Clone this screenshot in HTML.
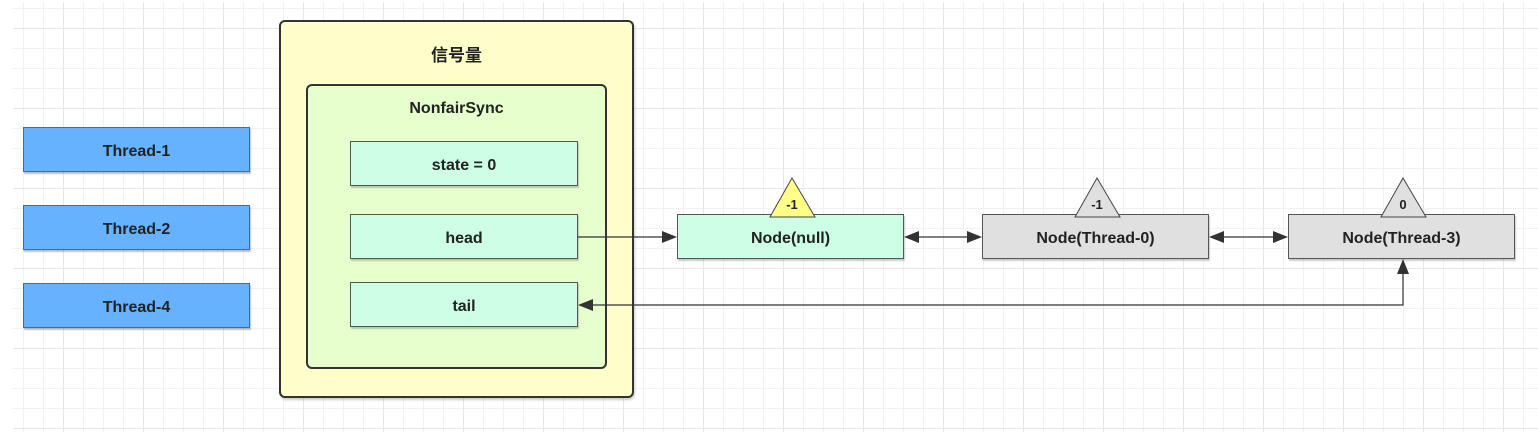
<!DOCTYPE html>
<html><head><meta charset="utf-8"><style>
html,body{margin:0;padding:0;background:#fff;}
body{width:1538px;height:432px;position:relative;overflow:hidden;font-family:"Liberation Sans","Noto Sans CJK SC",sans-serif;}
.grid{position:absolute;left:13px;top:2px;width:1525px;height:430px;
background-image:
linear-gradient(to right,#e6e6e6 1px,transparent 1px),
linear-gradient(to bottom,#e6e6e6 1px,transparent 1px),
linear-gradient(to right,#f1f1f1 1px,transparent 1px),
linear-gradient(to bottom,#f1f1f1 1px,transparent 1px);
background-size:80px 80px,80px 80px,20px 20px,20px 20px;
background-position:50px 26px,50px 26px,10px 6px,10px 6px;}
.b{position:absolute;box-sizing:border-box;display:flex;align-items:center;justify-content:center;font-weight:bold;font-size:16px;color:#222;padding-top:4px;}
.t{background:#66b2ff;border:1px solid #3d6f9e;box-shadow:1px 2px 1px rgba(0,0,0,.25);}
.f{background:#ccffe6;border:1px solid #555;box-shadow:1px 2px 1px rgba(0,0,0,.2);}
.g{background:#e0e0e0;border:1px solid #555;box-shadow:1px 2px 1px rgba(0,0,0,.2);}
</style></head><body>
<div class="grid"></div>
<div class="b t" style="left:23px;top:127px;width:227px;height:45px">Thread-1</div>
<div class="b t" style="left:23px;top:205px;width:227px;height:45px">Thread-2</div>
<div class="b t" style="left:23px;top:283px;width:227px;height:45px">Thread-4</div>
<div style="position:absolute;left:279px;top:20px;width:355px;height:378px;box-sizing:border-box;background:#ffffcc;border:2px solid #333;border-radius:6px;box-shadow:1px 2px 2px rgba(0,0,0,.2)"></div>
<div class="b" style="left:279px;top:36px;width:355px;height:30px;font-size:17px">信号量</div>
<div style="position:absolute;left:306px;top:84px;width:301px;height:285px;box-sizing:border-box;background:#e6ffcc;border:2px solid #333;border-radius:6px"></div>
<div class="b" style="left:306px;top:95px;width:301px;height:24px">NonfairSync</div>
<div class="b f" style="left:350px;top:141px;width:228px;height:45px">state = 0</div>
<div class="b f" style="left:350px;top:214px;width:228px;height:45px">head</div>
<div class="b f" style="left:350px;top:282px;width:228px;height:45px">tail</div>
<div class="b f" style="left:677px;top:214px;width:227px;height:45px">Node(null)</div>
<div class="b g" style="left:982px;top:214px;width:227px;height:45px">Node(Thread-0)</div>
<div class="b g" style="left:1288px;top:214px;width:227px;height:45px">Node(Thread-3)</div>
<svg width="1538" height="432" style="position:absolute;left:0;top:0" font-family="Liberation Sans,sans-serif" font-weight="bold" font-size="13">
<polygon points="792,178 770,217 815,217" fill="#ffff88" stroke="#444"/>
<text x="792" y="209" text-anchor="middle" fill="#222">-1</text>
<polygon points="1097,178 1075,217 1120,217" fill="#e0e0e0" stroke="#444"/>
<text x="1097" y="209" text-anchor="middle" fill="#222">-1</text>
<polygon points="1403,178 1381,217 1426,217" fill="#e0e0e0" stroke="#444"/>
<text x="1403" y="209" text-anchor="middle" fill="#222">0</text>
<g stroke="#333" stroke-width="1.2" fill="none">
<line x1="578" y1="237" x2="665" y2="237"/>
<line x1="915" y1="237" x2="971" y2="237"/>
<line x1="1220" y1="237" x2="1277" y2="237"/>
<polyline points="1403,271 1403,305 590,305"/>
</g>
<g fill="#333">
<polygon points="677,237 662,231 662,243"/>
<polygon points="904,237 919,231 919,243"/>
<polygon points="982,237 967,231 967,243"/>
<polygon points="1209,237 1224,231 1224,243"/>
<polygon points="1288,237 1273,231 1273,243"/>
<polygon points="578,305 593,299 593,311"/>
<polygon points="1403,259 1397,274 1409,274"/>
</g>
</svg>
</body></html>
